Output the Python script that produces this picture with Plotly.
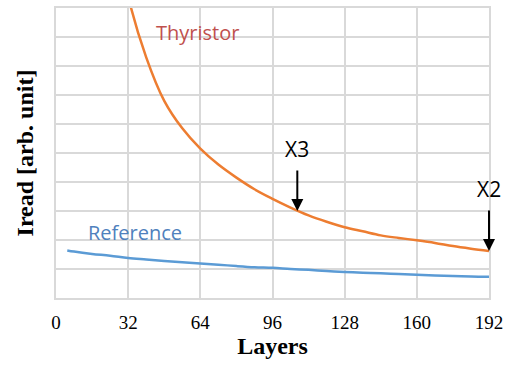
import plotly.graph_objects as go

layers = [5, 8, 16, 24, 32, 40, 48, 56, 64, 72, 80, 88, 96, 104, 112, 120,
          128, 136, 144, 152, 160, 168, 176, 184, 192]
thyristor = [None, None, None, 13.8, 10.4, 8.3, 6.8, 5.85, 5.15, 4.6, 4.15,
             3.75, 3.42, 3.12, 2.85, 2.63, 2.44, 2.3, 2.16, 2.07, 1.99, 1.9,
             1.79, 1.7, 1.62]
reference = [1.64, 1.6, 1.52, 1.46, 1.38, 1.33, 1.28, 1.23, 1.19, 1.15, 1.1,
             1.06, 1.04, 1.0, 0.97, 0.93, 0.9, 0.87, 0.85, 0.83, 0.8, 0.78,
             0.76, 0.74, 0.73]
x_ticks = [0, 32, 64, 96, 128, 160, 192]
markers = [("X3", 107, 3.0), ("X2", 192, 1.62)]

fig = go.Figure()
fig.add_trace(go.Scatter(x=layers, y=thyristor, mode="lines",
                         line=dict(color="#ED7D31", width=2.5, shape="spline"),
                         connectgaps=False, showlegend=False))
fig.add_trace(go.Scatter(x=layers, y=reference, mode="lines",
                         line=dict(color="#5B9BD5", width=2.5, shape="spline"),
                         showlegend=False))

ann = []
ann.append(dict(x=0.326, y=0.917, xref="paper", yref="paper", text="Thyristor",
                xanchor="center", yanchor="middle",
                showarrow=False, font=dict(family="Open Sans", size=20, color="#C0504D")))
ann.append(dict(x=0.183, y=0.226, xref="paper", yref="paper", text="Reference",
                xanchor="center", yanchor="middle",
                showarrow=False, font=dict(family="Open Sans", size=20, color="#4F81BD")))
for label, lx, ly in markers:
    ann.append(dict(x=lx, y=ly, xref="x", yref="y", text="", showarrow=True,
                    ax=0, ay=-42, arrowhead=2, arrowsize=1.2, arrowwidth=2,
                    arrowcolor="black"))
    ann.append(dict(x=lx, y=ly, xref="x", yref="y", text=label, showarrow=False,
                    xanchor="center", yanchor="middle",
                    yshift=62, font=dict(family="Open Sans", size=21, color="black")))

fig.update_layout(
    width=515, height=370,
    margin=dict(l=56, r=26, t=6, b=72),
    paper_bgcolor="white", plot_bgcolor="white",
    annotations=ann,
    xaxis=dict(range=[0, 192], tickvals=x_ticks, showgrid=True, gridcolor="#D9D9D9",
               gridwidth=1.5, zeroline=False, showline=True, linecolor="#D9D9D9",
               linewidth=1.5, mirror=True, ticks="outside", ticklen=6,
               tickcolor="rgba(0,0,0,0)",
               tickfont=dict(family="Liberation Serif", size=19, color="black"),
               title=dict(text="<b>Layers</b>", standoff=6,
                          font=dict(family="Liberation Serif", size=24, color="black"))),
    yaxis=dict(range=[0, 10], dtick=1, showgrid=True, gridcolor="#D9D9D9",
               gridwidth=1.5, zeroline=False, showline=True, linecolor="#D9D9D9",
               linewidth=1.5, mirror=True, showticklabels=False, ticks="",
               title=dict(text="<b>Iread [arb. unit]</b>", standoff=14,
                          font=dict(family="Liberation Serif", size=24, color="black"))),
)
fig.write_html("out.html", config={"displayModeBar": False},
               post_script="document.body.style.margin='0';")
